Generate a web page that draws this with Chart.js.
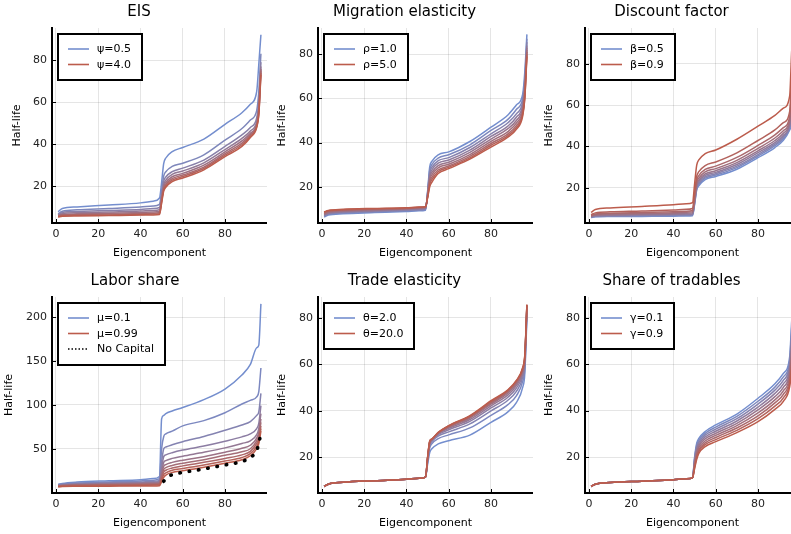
<!DOCTYPE html>
<html><head><meta charset="utf-8">
<script src="https://cdn.jsdelivr.net/npm/chart.js@4.4.1/dist/chart.umd.min.js"></script>
<style>
html,body{margin:0;padding:0;background:#fff;overflow:hidden;width:791px;height:534px;position:relative;}
canvas{position:absolute;}
</style></head><body>
<canvas id="c1"></canvas><canvas id="c2"></canvas><canvas id="c3"></canvas>
<canvas id="c4"></canvas><canvas id="c5"></canvas><canvas id="c6"></canvas>
<script>
// ---------- data ----------
const XS = [1, 3, 10, 25, 40, 46, 49, 50, 51, 52, 55, 60, 70, 80, 88, 92, 95, 96, 97];
const XTICKS = [0, 20, 40, 60, 80];
const YTICKS_STD = [20, 40, 60, 80];
const YTICKS_LABOR = [50, 100, 150, 200];

const EIS_LABELS = ['ψ=0.5', 'ψ=4.0'];
const EIS_HL = [
  [8.0, 9.5, 10.3, 11.2, 12.2, 13.0, 14.5, 22.0, 31.0, 33.5, 36.5, 38.5, 42.5, 49.5, 55.0, 59.0, 65.0, 78.0, 92.0],
  [7.0, 8.2, 8.9, 9.5, 10.2, 10.7, 11.5, 18.0, 25.0, 27.0, 29.5, 31.0, 35.0, 42.0, 47.5, 51.5, 56.0, 65.0, 83.0],
  [6.6, 7.6, 8.1, 8.6, 9.1, 9.5, 10.0, 16.0, 22.5, 24.5, 27.0, 28.7, 32.5, 39.0, 44.5, 48.0, 52.5, 60.0, 79.0],
  [6.3, 7.1, 7.5, 7.9, 8.3, 8.6, 9.0, 15.0, 21.0, 23.0, 25.7, 27.3, 31.2, 37.5, 42.8, 46.3, 50.8, 58.0, 77.0],
  [6.1, 6.7, 7.0, 7.3, 7.6, 7.9, 8.2, 14.0, 20.0, 21.9, 24.6, 26.2, 30.1, 36.4, 41.6, 45.2, 49.7, 56.5, 75.8],
  [5.9, 6.4, 6.6, 6.9, 7.1, 7.3, 7.6, 13.3, 19.2, 21.0, 23.7, 25.4, 29.2, 35.6, 40.6, 44.4, 48.9, 55.5, 75.0],
  [5.7, 6.1, 6.3, 6.5, 6.7, 6.9, 7.1, 12.7, 18.5, 20.3, 23.0, 24.7, 28.5, 34.9, 39.8, 43.8, 48.4, 54.5, 74.0],
  [5.5, 5.9, 6.0, 6.2, 6.4, 6.5, 6.7, 12.0, 17.8, 19.6, 22.3, 24.0, 27.9, 34.2, 39.0, 43.2, 48.0, 54.0, 73.0]
];

const MIG_LABELS = ['ρ=1.0', 'ρ=5.0'];
const MIG_HL = [
  [6.3, 7.2, 7.8, 8.3, 8.8, 9.1, 9.4, 18.0, 29.0, 31.5, 34.5, 35.8, 40.5, 47.0, 52.5, 57.0, 62.0, 72.0, 89.0],
  [6.6, 7.5, 8.1, 8.6, 9.1, 9.4, 9.7, 17.5, 27.5, 30.0, 33.0, 34.5, 39.0, 45.5, 50.5, 55.0, 60.0, 69.0, 87.0],
  [6.9, 7.8, 8.4, 8.9, 9.4, 9.7, 10.0, 17.0, 26.3, 28.8, 31.8, 33.2, 37.8, 44.0, 49.0, 53.0, 58.5, 67.0, 85.5],
  [7.2, 8.1, 8.7, 9.2, 9.7, 10.0, 10.2, 16.6, 25.2, 27.6, 30.7, 32.1, 36.6, 42.8, 47.5, 51.5, 57.0, 65.5, 84.0],
  [7.5, 8.3, 8.9, 9.4, 9.9, 10.2, 10.4, 16.2, 24.2, 26.5, 29.6, 31.1, 35.6, 41.6, 46.3, 50.0, 55.8, 64.0, 83.0],
  [7.8, 8.6, 9.2, 9.7, 10.1, 10.4, 10.6, 15.9, 23.2, 25.4, 28.6, 30.2, 34.6, 40.6, 45.0, 48.8, 54.6, 62.5, 82.0],
  [8.1, 8.9, 9.4, 9.9, 10.3, 10.6, 10.8, 15.6, 22.2, 24.3, 27.6, 29.4, 33.8, 39.6, 44.0, 47.7, 53.6, 61.5, 81.0],
  [8.4, 9.1, 9.6, 10.0, 10.4, 10.7, 10.9, 15.3, 21.2, 23.2, 26.8, 28.8, 33.1, 38.8, 43.2, 46.8, 52.8, 60.5, 80.0],
  [8.6, 9.3, 9.8, 10.2, 10.5, 10.8, 11.0, 15.0, 20.0, 22.0, 26.0, 28.2, 32.5, 38.0, 42.5, 46.0, 52.0, 60.0, 79.0]
];

const DISC_LABELS = ['β=0.5', 'β=0.9'];
const DISC_HL = [
  [5.7, 6.0, 6.1, 6.2, 6.3, 6.4, 6.5, 12.0, 19.0, 21.0, 24.0, 25.5, 29.0, 34.6, 39.5, 43.0, 48.0, 52.0, 76.0],
  [5.8, 6.2, 6.3, 6.5, 6.6, 6.7, 6.9, 12.6, 19.7, 21.7, 24.7, 26.2, 29.8, 35.4, 40.4, 43.9, 48.9, 54.0, 77.0],
  [5.9, 6.4, 6.5, 6.7, 6.9, 7.0, 7.1, 13.0, 20.2, 22.3, 25.3, 26.8, 30.5, 36.1, 41.1, 44.6, 49.7, 56.0, 77.8],
  [6.1, 6.6, 6.8, 7.0, 7.2, 7.3, 7.5, 13.6, 20.9, 23.0, 26.0, 27.5, 31.3, 37.0, 41.9, 45.4, 50.6, 58.5, 78.8],
  [6.2, 6.8, 7.0, 7.3, 7.5, 7.7, 7.9, 14.2, 21.6, 23.7, 26.7, 28.3, 32.2, 37.9, 42.9, 46.4, 51.6, 61.0, 79.9],
  [6.4, 7.0, 7.4, 7.6, 7.9, 8.2, 8.4, 15.0, 22.6, 24.7, 27.7, 29.3, 33.3, 39.1, 44.1, 47.6, 52.9, 64.5, 81.4],
  [6.6, 7.4, 7.7, 8.1, 8.5, 8.7, 9.0, 15.9, 23.7, 25.9, 28.9, 30.5, 34.7, 40.5, 45.6, 49.1, 54.4, 69.0, 83.0],
  [7.0, 7.9, 8.4, 8.8, 9.3, 9.6, 10.0, 17.5, 25.6, 27.8, 30.8, 32.5, 36.9, 42.9, 48.0, 51.5, 57.0, 76.0, 85.9],
  [8.1, 9.5, 10.3, 11.0, 11.8, 12.3, 12.8, 22.0, 31.0, 33.5, 36.5, 38.3, 43.5, 49.8, 55.0, 58.5, 64.5, 87.0, 94.0]
];

const LAB_LABELS = ['μ=0.1', 'μ=0.99', 'No Capital'];
const LAB_HL = [
  [9.5, 10.5, 12.0, 13.5, 14.8, 16.0, 18.5, 84, 88, 90, 93, 97, 106, 118, 134, 146, 165, 168, 215],
  [9.0, 9.8, 11.0, 12.2, 13.3, 14.2, 16.0, 50, 64, 67, 70, 76, 82, 91, 101, 105, 109, 115, 142],
  [8.6, 9.3, 10.3, 11.3, 12.2, 12.9, 14.0, 35, 50, 52, 54.5, 58, 64, 71, 77, 81, 88, 92, 113],
  [8.2, 8.9, 9.8, 10.6, 11.3, 11.9, 12.8, 28, 41, 43, 45.5, 48.5, 53, 58.5, 63.5, 67, 73, 79, 99],
  [7.9, 8.5, 9.3, 10.1, 10.7, 11.2, 11.9, 24, 34.5, 36.5, 39, 41.5, 46, 51, 56, 59, 66, 73, 90],
  [7.6, 8.2, 8.9, 9.6, 10.1, 10.5, 11.1, 21, 30, 32, 34.5, 37, 41, 46, 50.5, 54, 62, 69, 84],
  [7.3, 7.9, 8.5, 9.1, 9.6, 9.9, 10.4, 18.5, 26.5, 28.5, 31, 33.5, 37.5, 42.5, 46.5, 50, 59, 65, 80],
  [7.1, 7.6, 8.1, 8.6, 9.0, 9.3, 9.7, 16.5, 23.5, 25.5, 28, 30.5, 34.5, 39, 43, 47, 56, 62, 76],
  [6.9, 7.3, 7.7, 8.1, 8.4, 8.6, 8.9, 14.5, 20.5, 22.5, 25.5, 27.5, 31.5, 36, 40, 44.5, 53, 59, 73],
  [6.7, 7.0, 7.2, 7.4, 7.6, 7.7, 7.9, 12.5, 17.5, 20, 23, 25, 29, 33.5, 37.5, 42, 50, 56, 70]
];
const NOCAP_X = [51, 52, 55, 60, 70, 80, 88, 92, 95, 96, 97];
const NOCAP_Y = [13, 16, 20.5, 23, 27, 31.5, 35.5, 40, 48, 56, 68];

const TRADE_LABELS = ['θ=2.0', 'θ=20.0'];
const TRADE_HL = [
  [7.4, 8.4, 9.2, 9.9, 10.5, 10.9, 11.4, 17.0, 22.0, 23.6, 25.7, 27.1, 29.5, 35.0, 39.5, 43.5, 50.0, 56.0, 80.0],
  [7.4, 8.4, 9.2, 9.9, 10.5, 10.9, 11.4, 18.0, 24.0, 25.8, 28.0, 29.6, 32.6, 38.0, 42.6, 46.4, 52.6, 58.3, 82.0],
  [7.4, 8.4, 9.2, 9.9, 10.5, 10.9, 11.4, 18.6, 25.0, 26.7, 29.1, 30.9, 34.3, 39.9, 44.5, 48.3, 54.2, 59.8, 83.0],
  [7.4, 8.4, 9.2, 9.9, 10.5, 10.9, 11.4, 19.0, 25.6, 27.1, 29.7, 31.8, 35.4, 41.2, 45.8, 49.7, 55.4, 60.9, 84.0],
  [7.4, 8.4, 9.2, 9.9, 10.5, 10.9, 11.4, 19.3, 26.0, 27.4, 30.1, 32.4, 36.2, 42.1, 46.8, 50.8, 56.3, 61.7, 84.5],
  [7.4, 8.4, 9.2, 9.9, 10.5, 10.9, 11.4, 19.5, 26.3, 27.5, 30.3, 32.8, 36.8, 42.8, 47.6, 51.6, 57.0, 62.4, 85.0],
  [7.4, 8.4, 9.2, 9.9, 10.5, 10.9, 11.4, 19.7, 26.5, 27.6, 30.4, 33.1, 37.2, 43.3, 48.2, 52.2, 57.6, 62.9, 85.2],
  [7.4, 8.4, 9.2, 9.9, 10.5, 10.9, 11.4, 19.8, 26.7, 27.7, 30.5, 33.3, 37.5, 43.7, 48.6, 52.6, 58.0, 63.3, 85.4],
  [7.4, 8.4, 9.2, 9.9, 10.5, 10.9, 11.4, 19.9, 26.9, 27.8, 30.6, 33.5, 37.7, 44.0, 48.8, 52.8, 58.3, 63.6, 85.5],
  [7.4, 8.4, 9.2, 9.9, 10.5, 10.9, 11.4, 20.0, 27.0, 27.8, 30.7, 33.6, 37.9, 44.3, 49.0, 53.0, 58.6, 64.0, 85.7]
];

const SHARE_LABELS = ['γ=0.1', 'γ=0.9'];
const SHARE_HL = [
  [7.3, 8.3, 9.0, 9.6, 10.2, 10.6, 11.0, 20.0, 26.0, 28.0, 31.0, 33.8, 38.5, 45.3, 51.5, 56.0, 63.2, 79.0, 86.5],
  [7.3, 8.3, 9.0, 9.6, 10.2, 10.6, 11.0, 19.4, 25.1, 27.2, 30.2, 32.9, 37.5, 44.0, 50.1, 54.5, 61.6, 76.3, 85.7],
  [7.3, 8.3, 9.0, 9.6, 10.2, 10.6, 11.0, 18.8, 24.3, 26.4, 29.4, 32.0, 36.5, 42.8, 48.8, 53.0, 60.0, 73.6, 84.9],
  [7.3, 8.3, 9.0, 9.6, 10.2, 10.6, 11.0, 18.1, 23.4, 25.6, 28.6, 31.1, 35.5, 41.5, 47.4, 51.5, 58.4, 71.0, 84.1],
  [7.3, 8.3, 9.0, 9.6, 10.2, 10.6, 11.0, 17.5, 22.5, 24.8, 27.8, 30.2, 34.5, 40.3, 46.0, 50.0, 56.8, 68.5, 83.3],
  [7.3, 8.3, 9.0, 9.6, 10.2, 10.6, 11.0, 16.9, 21.6, 24.0, 26.9, 29.3, 33.5, 39.0, 44.6, 48.5, 55.1, 66.0, 82.5],
  [7.3, 8.3, 9.0, 9.6, 10.2, 10.6, 11.0, 16.3, 20.8, 23.2, 26.1, 28.4, 32.5, 37.7, 43.3, 47.0, 53.5, 63.5, 81.7],
  [7.3, 8.3, 9.0, 9.6, 10.2, 10.6, 11.0, 15.6, 19.9, 22.4, 25.3, 27.5, 31.5, 36.5, 41.9, 45.5, 51.9, 61.0, 80.9],
  [7.3, 8.3, 9.0, 9.6, 10.2, 10.6, 11.0, 15.0, 19.0, 21.6, 24.5, 26.6, 30.5, 35.2, 40.5, 44.0, 50.3, 58.5, 80.0]
];

// ---------- styling / layout ----------
Chart.defaults.font.family = '"DejaVu Sans", sans-serif';
const BLUE = [116, 142, 206], RED = [188, 92, 76];
function grad(i, n) {
  const t = n > 1 ? i / (n - 1) : 0;
  return 'rgb(' + BLUE.map((b, k) => Math.round(b + (RED[k] - b) * t)).join(',') + ')';
}

const tickMarks = {
  id: 'tickMarks',
  afterDatasetsDraw(chart) {
    const {ctx, chartArea: a, scales: {x, y}} = chart;
    ctx.save();
    ctx.strokeStyle = '#000'; ctx.lineWidth = 1;
    ctx.beginPath();
    x.ticks.forEach(t => { const p = Math.round(x.getPixelForValue(t.value)) + 0.5; ctx.moveTo(p, a.bottom); ctx.lineTo(p, a.bottom - 4); });
    y.ticks.forEach(t => { const p = Math.round(y.getPixelForValue(t.value)) + 0.5; ctx.moveTo(a.left, p); ctx.lineTo(a.left + 4, p); });
    ctx.stroke();
    ctx.restore();
  }
};

const boxLegend = {
  id: 'boxLegend',
  afterDraw(chart, args, opts) {
    const entries = opts && opts.entries;
    if (!entries) return;
    const {ctx, chartArea: a} = chart;
    ctx.save();
    ctx.font = '11px "DejaVu Sans"';
    const tw = Math.max(...entries.map(e => ctx.measureText(e.text).width));
    const x0 = Math.round(a.left + 6), y0 = Math.round(a.top + 6);
    const w = Math.round(40 + tw + 10), h = Math.round(15.5 * entries.length + 15);
    ctx.fillStyle = '#fff';
    ctx.fillRect(x0, y0, w, h);
    ctx.strokeStyle = '#000'; ctx.lineWidth = 2;
    ctx.strokeRect(x0, y0, w, h);
    entries.forEach((e, i) => {
      const cy = y0 + 15 + 15.5 * i;
      ctx.beginPath();
      ctx.strokeStyle = e.color;
      if (e.dotted) { ctx.setLineDash([1.5, 2]); ctx.lineWidth = 1.5; } else { ctx.setLineDash([]); ctx.lineWidth = 1.6; }
      ctx.moveTo(x0 + 10, cy); ctx.lineTo(x0 + 31, cy);
      ctx.stroke();
      ctx.setLineDash([]);
      ctx.fillStyle = '#000';
      ctx.textBaseline = 'middle'; ctx.textAlign = 'left';
      ctx.fillText(e.text, x0 + 39, cy + 0.5);
    });
    ctx.restore();
  }
};
Chart.register(tickMarks, boxLegend);

const XMIN = -1.88, XMAX = 99.88;

function makePanel(p) {
  const cv = document.getElementById(p.id);
  cv.width = p.w; cv.height = p.h;
  Object.assign(cv.style, {left: p.left + 'px', top: p.top + 'px', width: p.w + 'px', height: p.h + 'px'});
  const n = p.series.length;
  const datasets = p.series.map((ys, i) => ({
    data: XS.map((x, k) => ({x: x, y: ys[k]})),
    borderColor: grad(i, n), borderWidth: 1.5, pointRadius: 0,
    cubicInterpolationMode: 'monotone', fill: false, order: n - i + 1
  }));
  const entries = [
    {text: p.labels[0], color: grad(0, n)},
    {text: p.labels[1], color: grad(n - 1, n)}
  ];
  if (p.extra) {
    datasets.push({
      data: p.extra.xs.map((x, k) => ({x: x, y: p.extra.ys[k]})),
      borderColor: '#000', borderWidth: 3.6, borderDash: [0.5, 8.9], borderCapStyle: 'round',
      pointRadius: 0, cubicInterpolationMode: 'monotone', fill: false, order: 0
    });
    entries.push({text: p.labels[2], color: '#000', dotted: true});
  }
  const tickFont = {size: 11};
  new Chart(cv, {
    type: 'line',
    data: {datasets},
    options: {
      responsive: false, animation: false, events: [],
      layout: {padding: 0},
      plugins: {
        legend: {display: false}, tooltip: {enabled: false},
        title: {display: true, text: p.title, color: '#000', font: {size: 15, weight: 'normal'}, padding: {top: 0, bottom: 7}},
        boxLegend: {entries}
      },
      scales: {
        x: {
          type: 'linear', min: XMIN, max: XMAX,
          afterBuildTicks: s => { s.ticks = XTICKS.map(v => ({value: v})); },
          afterFit: s => { s.height = 37; },
          ticks: {padding: 5, color: '#222', font: tickFont, callback: v => String(v)},
          grid: {color: 'rgba(0,0,0,0.1)', lineWidth: 1, drawTicks: false},
          border: {display: true, color: '#000', width: 2},
          title: {display: true, text: 'Eigencomponent', color: '#000', font: {size: 11}, padding: {top: 0, bottom: 0}}
        },
        y: {
          type: 'linear', min: p.ymin, max: p.ymax,
          afterBuildTicks: s => { s.ticks = p.yticks.map(v => ({value: v})); },
          afterFit: s => { s.width = p.yw; },
          ticks: {padding: 5, color: '#222', font: tickFont, callback: v => String(v)},
          grid: {color: 'rgba(0,0,0,0.1)', lineWidth: 1, drawTicks: false},
          border: {display: true, color: '#000', width: 2},
          title: {display: true, text: 'Half-life', color: '#000', font: {size: 11}, padding: {top: 0, bottom: 0}}
        }
      }
    }
  });
}

const PANELS = [
  {id: 'c1', title: 'EIS', series: EIS_HL, labels: EIS_LABELS, ymin: 2.65, ymax: 95.2, yticks: YTICKS_STD, left: 11, top: 3, w: 256, h: 257, yw: 41},
  {id: 'c2', title: 'Migration elasticity', series: MIG_HL, labels: MIG_LABELS, ymin: 3.6, ymax: 91.9, yticks: YTICKS_STD, left: 276, top: 3, w: 257, h: 257, yw: 42},
  {id: 'c3', title: 'Discount factor', series: DISC_HL, labels: DISC_LABELS, ymin: 3.0, ymax: 97.3, yticks: YTICKS_STD, left: 543, top: 3, w: 257, h: 257, yw: 42},
  {id: 'c4', title: 'Labor share', series: LAB_HL, labels: LAB_LABELS, ymin: -0.4, ymax: 222.8, yticks: YTICKS_LABOR, left: 3, top: 272, w: 264, h: 258, yw: 49,
   extra: {xs: NOCAP_X, ys: NOCAP_Y}},
  {id: 'c5', title: 'Trade elasticity', series: TRADE_HL, labels: TRADE_LABELS, ymin: 4.6, ymax: 88.9, yticks: YTICKS_STD, left: 276, top: 272, w: 257, h: 258, yw: 42},
  {id: 'c6', title: 'Share of tradables', series: SHARE_HL, labels: SHARE_LABELS, ymin: 4.5, ymax: 88.9, yticks: YTICKS_STD, left: 543, top: 272, w: 257, h: 258, yw: 42}
];
PANELS.forEach(makePanel);
</script>
</body></html>
